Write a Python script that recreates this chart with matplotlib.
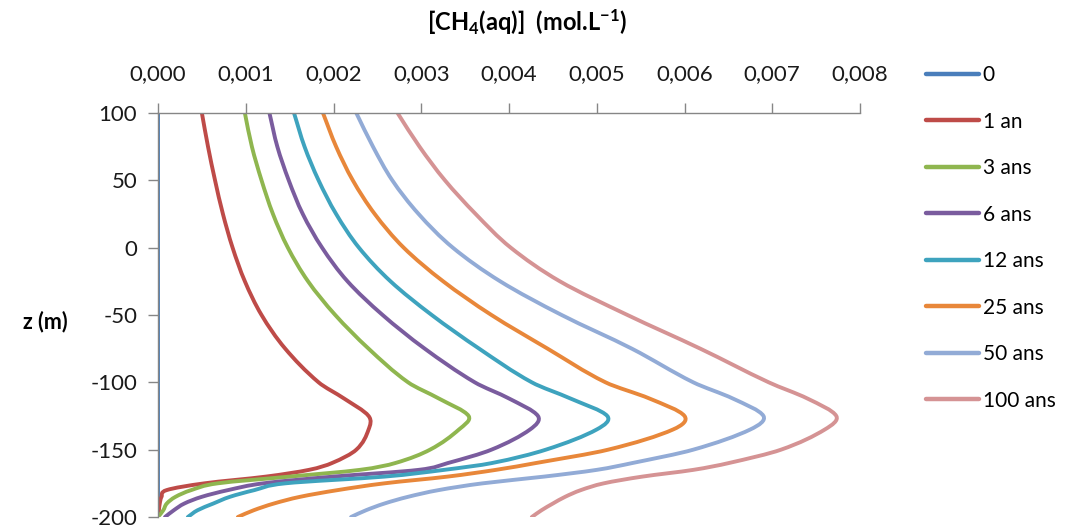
import numpy as np
import matplotlib
matplotlib.use("Agg")
import matplotlib.pyplot as plt
from matplotlib.path import Path
from matplotlib.patches import PathPatch
from matplotlib.lines import Line2D

plt.rcParams['font.family'] = ['Lato', 'DejaVu Sans']
plt.rcParams['mathtext.fontset'] = 'custom'
plt.rcParams['mathtext.bf'] = 'Lato:bold'
plt.rcParams['mathtext.rm'] = 'Lato:bold'
plt.rcParams['mathtext.default'] = 'bf'

# profondeur z (m)
z = [100, 75, 50, 25, 0, -25, -50, -75, -100, -112, -125, -135, -150,
     -160, -165, -170, -175, -180, -185, -190, -195, -200]

# [CH4(aq)] (mol/L) pour chaque duree
c_0 = [0.0] * len(z)
c_1an = [0.00050, 0.00057, 0.00065, 0.00074, 0.00085, 0.00099, 0.00118, 0.00145, 0.00183,
         0.00212, 0.00240, 0.00240, 0.00226, 0.00198, 0.00172, 0.00123, 0.00053, 0.00010,
         0.00004, 0.00002, 0.00001, 0.0]
c_3ans = [0.00099, 0.00107, 0.00118, 0.00131, 0.00148, 0.00171, 0.00202, 0.00240, 0.00285,
          0.00320, 0.00354, 0.00343, 0.00310, 0.00270, 0.00230, 0.00150, 0.00068, 0.00038,
          0.00020, 0.00010, 0.00006, 0.0]
c_6ans = [0.00127, 0.00136, 0.00149, 0.00165, 0.00187, 0.00216, 0.00256, 0.00304, 0.00361,
          0.00400, 0.00433, 0.00424, 0.00380, 0.00330, 0.00297, 0.00200, 0.00120, 0.00080,
          0.00050, 0.00030, 0.00018, 0.00008]
c_12ans = [0.00155, 0.00167, 0.00183, 0.00203, 0.00229, 0.00265, 0.00312, 0.00366, 0.00426,
           0.00470, 0.00512, 0.00500, 0.00442, 0.00380, 0.00326, 0.00258, 0.00145, 0.00110,
           0.00082, 0.00063, 0.00045, 0.00034]
c_25ans = [0.00188, 0.00203, 0.00222, 0.00247, 0.00280, 0.00325, 0.00380, 0.00444, 0.00510,
           0.00560, 0.00600, 0.00587, 0.00513, 0.00430, 0.00385, 0.00330, 0.00258, 0.00205,
           0.00162, 0.00132, 0.00109, 0.00091]
c_50ans = [0.00226, 0.00245, 0.00267, 0.00297, 0.00336, 0.00390, 0.00460, 0.00540, 0.00610,
           0.00655, 0.00690, 0.00675, 0.00610, 0.00540, 0.00500, 0.00440, 0.00370, 0.00320,
           0.00285, 0.00258, 0.00237, 0.00220]
c_100ans = [0.00273, 0.00298, 0.00327, 0.00362, 0.00402, 0.00458, 0.00535, 0.00618, 0.00696,
            0.00740, 0.00773, 0.00760, 0.00710, 0.00650, 0.00610, 0.00552, 0.00508, 0.00482,
            0.00464, 0.00450, 0.00437, 0.00426]

series = [c_0, c_1an, c_3ans, c_6ans, c_12ans, c_25ans, c_50ans, c_100ans]
labels = ["0", "1 an", "3 ans", "6 ans", "12 ans", "25 ans", "50 ans", "100 ans"]
colors = ["#4A7EBB", "#BE4B48", "#8FB64F", "#7A5C9E", "#3EA3BE", "#E8873A", "#92ABD6", "#D59394"]

x_ticks = [0.000, 0.001, 0.002, 0.003, 0.004, 0.005, 0.006, 0.007, 0.008]
x_ticklabels = ["0,000", "0,001", "0,002", "0,003", "0,004", "0,005", "0,006", "0,007", "0,008"]
y_ticks = [100, 50, 0, -50, -100, -150, -200]
y_ticklabels = ["100", "50", "0", "-50", "-100", "-150", "-200"]


def smooth_path(xs, zs):
    # ligne lissee (hermite en z, pentes par differences centrees), tracee en bezier
    x = np.asarray(xs, float)
    zz = np.asarray(zs, float)
    h = np.diff(zz)
    n = len(x)
    m = np.zeros(n)
    m[0] = (x[1] - x[0]) / h[0]
    m[-1] = (x[-1] - x[-2]) / h[-1]
    for i in range(1, n - 1):
        m[i] = (x[i + 1] - x[i - 1]) / (zz[i + 1] - zz[i - 1])
    verts = [(x[0], zz[0])]
    codes = [Path.MOVETO]
    for i in range(n - 1):
        verts += [(x[i] + m[i] * h[i] / 3, zz[i] + h[i] / 3),
                  (x[i + 1] - m[i + 1] * h[i] / 3, zz[i + 1] - h[i] / 3),
                  (x[i + 1], zz[i + 1])]
        codes += [Path.CURVE4] * 3
    return Path(verts, codes)


fig = plt.figure(figsize=(10.67, 5.30), dpi=100)
ax = fig.add_axes([158/1067, 1-517/530, (860-158)/1067, (517-113)/530])

for c, col in zip(series, colors):
    ax.add_patch(PathPatch(smooth_path(c, z), fill=False, edgecolor=col, lw=2.8,
                           capstyle='round', joinstyle='round'))

ax.set_xlim(0, 0.008)
ax.set_ylim(-200, 100)
ax.xaxis.tick_top()
ax.set_xticks(x_ticks)
ax.set_xticklabels(x_ticklabels)
ax.set_yticks(y_ticks)
ax.set_yticklabels(y_ticklabels)
ax.tick_params(axis='both', direction='out', length=7, width=1, color='#868686',
               labelsize=16, labelcolor='#1a1a1a')
ax.tick_params(axis='x', pad=14)
ax.tick_params(axis='y', pad=8)
for s in ['right', 'bottom']:
    ax.spines[s].set_visible(False)
for s in ['top', 'left']:
    ax.spines[s].set_color('#868686')
    ax.spines[s].set_linewidth(1)

fig.text(527/1067, 1-22/530, "[CH$_4$(aq)]  (mol.L$^{-1}$)", ha='center', va='center',
         fontsize=17, fontweight='bold')
fig.text(45/1067, 1-322/530, "z (m)", ha='center', va='center', fontsize=15.5, fontweight='bold')

handles = [Line2D([], [], color=col, lw=3.2, solid_capstyle='round') for col in colors]
fig.legend(handles, labels, loc='upper left', bbox_to_anchor=(918/1067, 1-57/530),
           frameon=False, fontsize=15, handlelength=2.55, handletextpad=0.15,
           labelspacing=1.27, borderaxespad=0)

fig.savefig("out.png", dpi=100)
